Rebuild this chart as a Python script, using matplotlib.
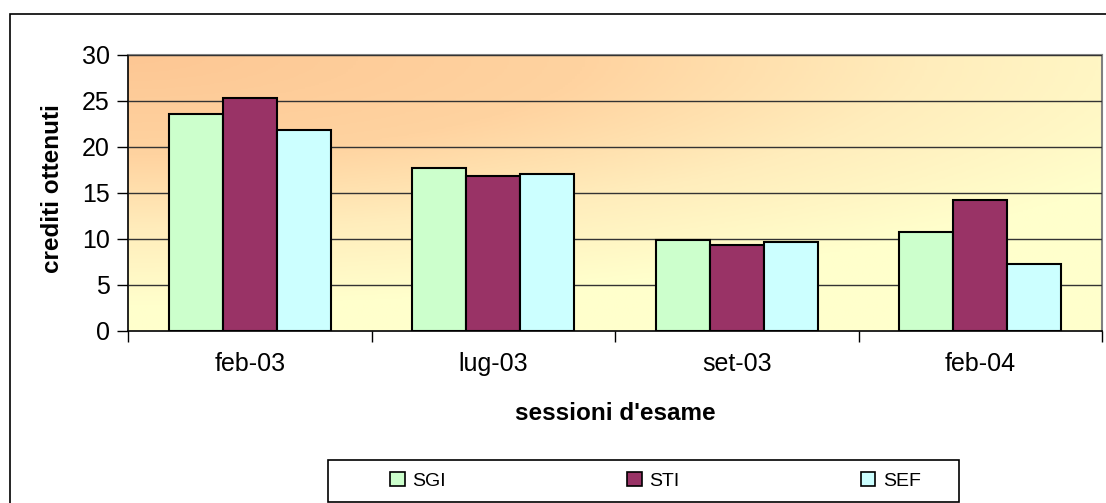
import numpy as np
import matplotlib.pyplot as plt
from matplotlib.patches import Patch, Rectangle
from matplotlib.colors import LinearSegmentedColormap

plt.rcParams['font.family'] = ['Liberation Sans', 'DejaVu Sans']

sessioni = ["feb-03", "lug-03", "set-03", "feb-04"]
serie = ["SGI", "STI", "SEF"]
sgi = [23.6, 17.7, 9.9, 10.8]
sti = [25.3, 16.9, 9.4, 14.2]
sef = [21.8, 17.1, 9.7, 7.3]
colori = ["#CCFFCC", "#993366", "#CCFFFF"]

W, H = 1106, 503
fig = plt.figure(figsize=(W / 100, H / 100), dpi=100)
ax = fig.add_axes([128 / W, 1 - 331 / H, (1102 - 128) / W, (331 - 55) / H])

# sfondo sfumato dall'angolo in alto a sinistra
u = np.linspace(0, 1, 400)
v = np.linspace(0, 1, 200)
U, V = np.meshgrid(u, v)
t = np.clip(np.sqrt((U * 0.85) ** 2 + (V * 1.1) ** 2), 0, 1)
cmap = LinearSegmentedColormap.from_list(
    "sfondo", [(0, "#FDC794"), (0.4, "#FFD3A0"), (0.7, "#FFEDBC"), (1, "#FFFFCC")])
ax.imshow(t, cmap=cmap, vmin=0, vmax=1, extent=(-0.5, 3.5, 0, 30), origin="upper",
          aspect="auto", zorder=0, interpolation="bilinear")

x = np.arange(len(sessioni))
w = 54 / 243
for i, (vals, c) in enumerate(zip([sgi, sti, sef], colori)):
    ax.bar(x + (i - 1) * w, vals, w, color=c, edgecolor="black",
           linewidth=1.5, zorder=3)

ax.set_xlim(-0.5, 3.5)
ax.set_ylim(0, 30)
ax.set_yticks(range(0, 31, 5))
ax.yaxis.grid(True, color="#333333", linewidth=1)
ax.set_axisbelow(False)
for gl in ax.get_ygridlines():
    gl.set_zorder(1)
ax.set_xticks(x)
ax.set_xticklabels(sessioni, fontsize=18)
ax.set_xticks(np.arange(-0.5, 4, 1), minor=True)
ax.tick_params(axis="x", which="major", length=0, pad=15)
ax.tick_params(axis="x", which="minor", length=8, width=1, color="black")
ax.tick_params(axis="y", length=8, width=1, labelsize=18, pad=5)

for s in ["top", "right"]:
    ax.spines[s].set_color("#808080")
    ax.spines[s].set_linewidth(1.5)
for s in ["left", "bottom"]:
    ax.spines[s].set_color("black")
    ax.spines[s].set_linewidth(1.2)

fig.text(53 / W, 1 - 189 / H, "crediti ottenuti", rotation=90, fontsize=17.5,
         fontweight="bold", ha="center", va="center")
fig.text(615 / W, 1 - 413 / H, "sessioni d'esame", fontsize=17.5,
         fontweight="bold", ha="center", va="center")

# cornice esterna e riquadro legenda
fig.patches.append(Rectangle((10 / W, -0.1), 1.2, 1.1 - 14 / H, transform=fig.transFigure,
                             fill=False, edgecolor="black", linewidth=1.2))
fig.patches.append(Rectangle((328 / W, 1 - 502 / H), (959 - 328) / W, 42 / H,
                             transform=fig.transFigure, fill=False,
                             edgecolor="black", linewidth=1.2))

handles = [Patch(facecolor=c, edgecolor="black", linewidth=1.2) for c in colori]
fig.legend(handles, serie, ncol=3, loc="center left",
           bbox_to_anchor=(390 / W, 1 - 481 / H, 531 / W, 0.0001),
           mode="expand", frameon=False, fontsize=14, handlelength=0.75,
           handleheight=0.75, handletextpad=0.4, borderpad=0, borderaxespad=0)

fig.savefig("out.png", dpi=100)
